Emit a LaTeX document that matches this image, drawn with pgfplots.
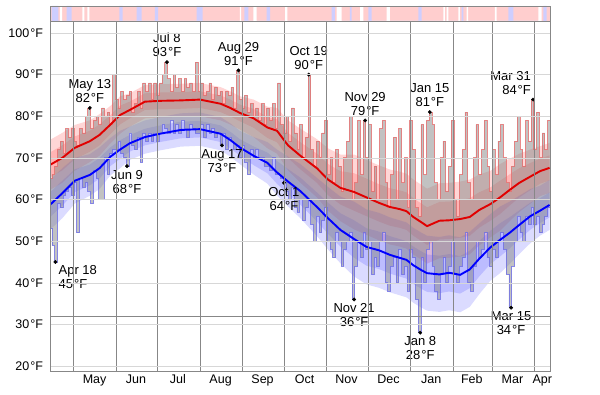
\documentclass[border=0pt]{standalone}
\usepackage{fontspec}
\setmainfont{Liberation Sans}
\usepackage{pgfplots}
\usepackage{pgfplotstable}
\pgfplotsset{compat=1.18}
\usepgfplotslibrary{fillbetween}
\definecolor{gridlt}{RGB}{215,215,215}
\definecolor{gridmd}{RGB}{135,135,135}
\definecolor{stripPink}{RGB}{255,206,206}
\definecolor{stripBlue}{RGB}{206,206,255}
\definecolor{hiOut}{RGB}{228,110,110}
\definecolor{loOut}{RGB}{110,110,228}
\definecolor{hiLine}{RGB}{225,0,0}
\definecolor{loLine}{RGB}{0,0,255}

\pgfplotstableread{
d hm h90 h75 h25 h10 lm l90 l75 l25 l10
-17 68.3 74.3 71.3 65.3 62.3 58.7 64.7 61.7 55.7 52.7
-8 70.0 76 73 67 64 61.5 67.5 64.5 58.5 55.5
1 72.4 77.9 75.15 69.65 66.9 64.5 70 67.25 61.75 59
12 74.0 79 76.5 71.5 69 65.9 70.9 68.4 63.4 60.9
19 75.5 80.5 78 73 70.5 67.5 72.5 70 65 62.5
27 78.0 82.5 80.25 75.75 73.5 70.3 74.8 72.55 68.05 65.8
34 80.3 84.8 82.55 78.05 75.8 72.0 76.5 74.25 69.75 67.5
41 81.5 85.5 83.5 79.5 77.5 73.5 77.5 75.5 71.5 69.5
52 83.5 87.5 85.5 81.5 79.5 75.0 79 77 73 71
63 83.7 87.7 85.7 81.7 79.7 75.8 79.8 77.8 73.8 71.8
78 83.8 87.8 85.8 81.8 79.8 76.7 80.7 78.7 74.7 72.7
92 84.0 88 86 82 80 76.9 80.9 78.9 74.9 72.9
107 83.0 87 85 81 79 75.8 79.8 77.8 73.8 71.8
114 82.0 86 84 80 78 74.3 78.3 76.3 72.3 70.3
121 80.8 84.8 82.8 78.8 76.8 72.5 76.5 74.5 70.5 68.5
131 79.5 84 81.75 77.25 75 70.5 75 72.75 68.25 66
141 77.3 82.3 79.8 74.8 72.3 68.8 73.8 71.3 66.3 63.8
148 76.5 82 79.25 73.75 71 66.5 72 69.25 63.75 61
156 73.0 79 76 70 67 64.3 70.3 67.3 61.3 58.3
165 70.5 77 73.75 67.25 64 62.0 68.5 65.25 58.75 55.5
177 67.5 74.5 71 64 60.5 58.2 65.2 61.7 54.7 51.2
185 64.8 72.3 68.55 61.05 57.3 55.5 63 59.25 51.75 48
194 62.8 70.8 66.8 58.8 54.8 52.7 60.7 56.7 48.7 44.7
204 61.8 70.8 66.3 57.3 52.8 50.5 59.5 55 46 41.5
213 60.5 69.5 65 56 51.5 48.6 57.6 53.1 44.1 39.6
222 59.2 68.2 63.7 54.7 50.2 47.8 56.8 52.3 43.3 38.8
230 58.2 67.2 62.7 53.7 49.2 46.7 55.7 51.2 42.2 37.7
237 57.7 66.7 62.2 53.2 48.7 46.0 55 50.5 41.5 37
242 57.2 66.2 61.7 52.7 48.2 45.5 54.5 50 41 36.5
247 55.8 64.8 60.3 51.3 46.8 44.2 53.2 48.7 39.7 35.2
253 54.5 63.5 59 50 45.5 43.0 52 47.5 38.5 34
257 53.6 62.6 58.1 49.1 44.6 42.3 51.3 46.8 37.8 33.3
266 54.9 63.9 59.4 50.4 45.9 42.0 51 46.5 37.5 33
273 55.0 64 59.5 50.5 46 42.4 51.4 46.9 37.9 33.4
281 55.3 64.3 59.8 50.8 46.3 41.9 50.9 46.4 37.4 32.9
288 55.8 64.8 60.3 51.3 46.8 43.2 52.2 47.7 38.7 34.2
295 57.5 66 61.75 53.25 49 45.8 54.3 50.05 41.55 37.3
303 58.9 66.9 62.9 54.9 50.9 48.5 56.5 52.5 44.5 40.5
310 60.5 68.5 64.5 56.5 52.5 50.3 58.3 54.3 46.3 42.3
317 62.3 69.8 66.05 58.55 54.8 52.0 59.5 55.75 48.25 44.5
324 64.0 71 67.5 60.5 57 53.9 60.9 57.4 50.4 46.9
332 65.5 72 68.75 62.25 59 56.0 62.5 59.25 52.75 49.5
339 66.8 72.8 69.8 63.8 60.8 57.3 63.3 60.3 54.3 51.3
346 67.6 73.6 70.6 64.6 61.6 58.7 64.7 61.7 55.7 52.7
}\bands

\pgfplotstableread{
d h l
-17.5 65 53
-15.5 66 49
-13.5 68 45
-11.5 72 59
-9.5 74 58
-7.5 71 61
-5.5 77 62
-3.5 75 63
-1.5 77 61
0.5 74 64
2.5 73 52
4.5 77 65
6.5 76 63
8.5 80 64
10.5 82 62
12.5 77 59
14.5 79 67
16.5 80 65
18.5 78 60
20.5 82 60
22.5 80 70
24.5 81 66
26.5 78 71
28.5 90 72
30.5 84 72
32.5 82 74
34.5 86 71
36.5 84 70
38.5 85 68
40.5 86 76
42.5 81 73
44.5 83 72
46.5 86 75
48.5 82 69
50.5 88 76
52.5 86 74
54.5 88 76
56.5 84 74
58.5 88 76
60.5 85 74
62.5 88 76
64.5 90 78
66.5 93 77
68.5 89 76
70.5 86 79
72.5 90 76
74.5 87 78
76.5 89 76
78.5 86 79
80.5 89 77
82.5 87 75
84.5 88 78
86.5 86 77
88.5 93 76
90.5 86 76
92.5 88 78
94.5 85 75
96.5 86 78
98.5 88 76
100.5 84 77
102.5 87 75
104.5 85 76
106.5 86 73
108.5 83 76
110.5 86 72
112.5 85 75
114.5 87 74
116.5 82 72
118.5 91 73
120.5 84 70
122.5 82 73
124.5 85 69
126.5 81 66
128.5 83 72
130.5 80 70
132.5 82 72
134.5 79 70
136.5 83 70
138.5 78 68
140.5 82 68
142.5 79 67
144.5 83 70
146.5 77 66
148.5 88 66
150.5 78 65
152.5 76 64
154.5 80 62
156.5 74 60
158.5 82 63
160.5 76 58
162.5 72 57
164.5 78 60
166.5 70 55
168.5 75 58
170.5 90 60
172.5 72 54
174.5 68 50
176.5 74 56
178.5 70 52
180.5 76 55
182.5 79 58
184.5 66 50
186.5 70 48
188.5 64 46
190.5 72 52
192.5 68 50
194.5 62 44
196.5 70 48
198.5 74 50
200.5 80 52
202.5 60 36
204.5 64 44
206.5 79 50
208.5 66 46
210.5 79 52
212.5 70 48
214.5 78 50
216.5 62 42
218.5 68 46
220.5 60 44
222.5 77 50
224.5 79 52
226.5 64 40
228.5 58 38
230.5 66 44
232.5 75 46
234.5 60 40
236.5 77 48
238.5 64 42
240.5 70 44
242.5 58 38
244.5 79 48
246.5 72 46
248.5 58 36
250.5 56 28
252.5 78 46
254.5 66 40
256.5 79 48
258.5 81 50
260.5 78 44
262.5 64 38
264.5 60 36
266.5 70 42
268.5 74 46
270.5 62 40
272.5 68 44
274.5 79 50
276.5 60 42
278.5 56 40
280.5 66 44
282.5 72 46
284.5 81 52
286.5 64 40
288.5 60 38
290.5 70 44
292.5 78 50
294.5 66 46
296.5 72 48
298.5 79 52
300.5 68 46
302.5 62 44
304.5 72 48
306.5 66 46
308.5 74 50
310.5 78 52
312.5 70 48
314.5 64 42
316.5 62 34
318.5 68 44
320.5 74 50
322.5 80 56
324.5 72 52
326.5 68 50
328.5 79 56
330.5 74 54
332.5 84 58
334.5 72 54
336.5 81 56
338.5 70 52
340.5 76 54
342.5 72 56
344.5 79 58
346.5 79 58
}\daily

\begin{document}
\begin{tikzpicture}
% top strip
\begin{axis}[at={(50pt,373pt)}, anchor=south west, width=500pt, height=15pt, scale only axis,
  xmin=-16.93, xmax=346.3, ymin=0, ymax=1, axis line style={gridmd},
  xtick=\empty, ytick=\empty, axis background/.style={fill=stripPink}, axis on top]
\addplot[fill=stripBlue, draw=none] coordinates {
(-15.7,0)(-15.7,1)(-10.9,1)(-10.9,0) (-4.8,0)(-4.8,1)(-1.2,1)(-1.2,0)
(33.4,0)(33.4,1)(35.9,1)(35.9,0) (46,0)(46,1)(49.7,1)(49.7,0)
(59.3,0)(59.3,1)(61.7,1)(61.7,0) (89.6,0)(89.6,1)(94,1)(94,0)
(124.2,0)(124.2,1)(127.1,1)(127.1,0) (140.5,0)(140.5,1)(142.9,1)(142.9,0)
(187.7,0)(187.7,1)(190.1,1)(190.1,0) (201,0)(201,1)(202.2,1)(202.2,0)
(214.3,0)(214.3,1)(216.8,1)(216.8,0) (250.6,0)(250.6,1)(253,1)(253,0)
(282.1,0)(282.1,1)(283.3,1)(283.3,0) (316,0)(316,1)(319.6,1)(319.6,0)
(341.4,0)(341.4,1)(343.9,1)(343.9,0)} \closedcycle;
\addplot[fill=white, draw=none] coordinates {
(-9.7,0)(-9.7,1)(-8.2,1)(-8.2,0) (6.5,0)(6.5,1)(8,1)(8,0)
(10.2,0)(10.2,1)(11.6,1)(11.6,0) (121,0)(121,1)(122,1)(122,0)
(130.8,0)(130.8,1)(133.2,1)(133.2,0) (153.8,0)(153.8,1)(155.5,1)(155.5,0)
(191.3,0)(191.3,1)(195,1)(195,0) (208.3,0)(208.3,1)(210.7,1)(210.7,0)
(227.7,0)(227.7,1)(230,1)(230,0) (268.8,0)(268.8,1)(270,1)(270,0)
(271.2,0)(271.2,1)(272.4,1)(272.4,0) (279.7,0)(279.7,1)(280.9,1)(280.9,0)
(285.8,0)(285.8,1)(286.9,1)(286.9,0) (306.3,0)(306.3,1)(307.5,1)(307.5,0)
(337.8,0)(337.8,1)(340.3,1)(340.3,0)} \closedcycle;
\end{axis}
% main chart
\begin{axis}[at={(50pt,23pt)}, anchor=south west, width=500pt, height=350pt, scale only axis,
  xmin=-16.93, xmax=346.3, ymin=18.8, ymax=102.88,
  axis on top, axis line style={gridmd},
  ytick={20,30,...,100},
  yticklabels={20\kern1pt°F,30\kern1pt°F,40\kern1pt°F,50\kern1pt°F,60\kern1pt°F,70\kern1pt°F,80\kern1pt°F,90\kern1pt°F,100\kern1pt°F},
  ymajorgrids, major grid style={gridlt},
  extra y ticks={32}, extra y tick labels={},
  extra y tick style={ymajorgrids, major grid style={gridmd}},
  xtick={15.5,45.5,76,107,137.5,168,198.5,229,260,289.5,319,340.7},
  xticklabels={May,Jun,Jul,Aug,Sep,Oct,Nov,Dec,Jan,Feb,Mar,Apr},
  minor xtick={0,31,61,92,123,153,184,214,245,276,304,335},
  xminorgrids, minor grid style={gridmd},
  major tick length=0pt, minor tick length=0pt,
  tick label style={font=\fontsize{12.5}{14}\selectfont},
  yticklabel style={xshift=-3.5pt},
  ]
% high bands
\addplot[name path=h90, draw=none] table[x=d,y=h90]{\bands};
\addplot[name path=h10, draw=none] table[x=d,y=h10]{\bands};
\addplot[name path=h75, draw=none] table[x=d,y=h75]{\bands};
\addplot[name path=h25, draw=none] table[x=d,y=h25]{\bands};
\addplot[fill=red, fill opacity=0.16, draw=none] fill between[of=h90 and h10];
\addplot[fill=red, fill opacity=0.16, draw=none] fill between[of=h75 and h25];
% low bands
\addplot[name path=l90, draw=none] table[x=d,y=l90]{\bands};
\addplot[name path=l10, draw=none] table[x=d,y=l10]{\bands};
\addplot[name path=l75, draw=none] table[x=d,y=l75]{\bands};
\addplot[name path=l25, draw=none] table[x=d,y=l25]{\bands};
\addplot[fill=blue, fill opacity=0.14, draw=none] fill between[of=l90 and l10];
\addplot[fill=blue, fill opacity=0.14, draw=none] fill between[of=l75 and l25];
% daily bars
\addplot[name path=dh, const plot, draw=none] table[x=d,y=h]{\daily};
\addplot[name path=dl, const plot, draw=none] table[x=d,y=l]{\daily};
\addplot[fill=black!48, fill opacity=0.5, draw=none] fill between[of=dh and dl];
\addplot[const plot, draw=hiOut, draw opacity=0.8, line width=0.75pt] table[x=d,y=h]{\daily};
\addplot[const plot, draw=loOut, draw opacity=0.8, line width=0.75pt] table[x=d,y=l]{\daily};
% mean lines
\addplot[hiLine, line width=1.9pt] table[x=d,y=hm]{\bands};
\addplot[loLine, line width=1.9pt] table[x=d,y=lm]{\bands};
% extremes
\addplot[only marks, mark=*, mark size=1.7pt, black] coordinates {
(-13,45) (12,82) (39,68) (68,93) (108,73) (120,91) (153,64) (171,90)
(204,36) (212,79) (252,28) (259,81) (318,34) (334,84)};
\coordinate (e1) at (axis cs:-13,45);
\coordinate (e2) at (axis cs:12,82);
\coordinate (e3) at (axis cs:39,68);
\coordinate (e4) at (axis cs:68,93);
\coordinate (e5) at (axis cs:108,73);
\coordinate (e6) at (axis cs:120,91);
\coordinate (e7) at (axis cs:153,64);
\coordinate (e8) at (axis cs:171,90);
\coordinate (e9) at (axis cs:204,36);
\coordinate (e10) at (axis cs:212,79);
\coordinate (e11) at (axis cs:252,28);
\coordinate (e12) at (axis cs:259,81);
\coordinate (e13) at (axis cs:318,34);
\coordinate (e14) at (axis cs:334,84);
\end{axis}
\begin{scope}[every node/.style={font=\fontsize{13}{14}\selectfont, inner sep=0pt}]
\node[anchor=north west, align=left, xshift=3pt, yshift=-3pt] at (e1) {Apr 18\\45\kern1pt°F};
\node[anchor=south, align=center, yshift=5pt] at (e2) {May 13\\82\kern1pt°F};
\node[anchor=north, align=center, yshift=-4pt] at (e3) {Jun 9\\68\kern1pt°F};
\node[anchor=south, align=center, yshift=5pt] at (e4) {Jul 8\\93\kern1pt°F};
\node[anchor=north, align=center, yshift=-4pt] at (e5) {Aug 17\\73\kern1pt°F};
\node[anchor=south, align=center, yshift=5pt] at (e6) {Aug 29\\91\kern1pt°F};
\node[anchor=north, align=center, yshift=-4pt] at (e7) {Oct 1\\64\kern1pt°F};
\node[anchor=south, align=center, yshift=5pt] at (e8) {Oct 19\\90\kern1pt°F};
\node[anchor=north, align=center, yshift=-4pt] at (e9) {Nov 21\\36\kern1pt°F};
\node[anchor=south, align=center, yshift=5pt] at (e10) {Nov 29\\79\kern1pt°F};
\node[anchor=north, align=center, yshift=-4pt] at (e11) {Jan 8\\28\kern1pt°F};
\node[anchor=south, align=center, yshift=5pt] at (e12) {Jan 15\\81\kern1pt°F};
\node[anchor=north, align=center, yshift=-4pt] at (e13) {Mar 15\\34\kern1pt°F};
\node[anchor=south east, align=right, xshift=-2pt, yshift=5pt] at (e14) {Mar 31\\84\kern1pt°F};
\end{scope}
\pgfresetboundingbox
\path[use as bounding box] (0pt,0pt) rectangle (600pt,394pt);
\end{tikzpicture}
\end{document}
